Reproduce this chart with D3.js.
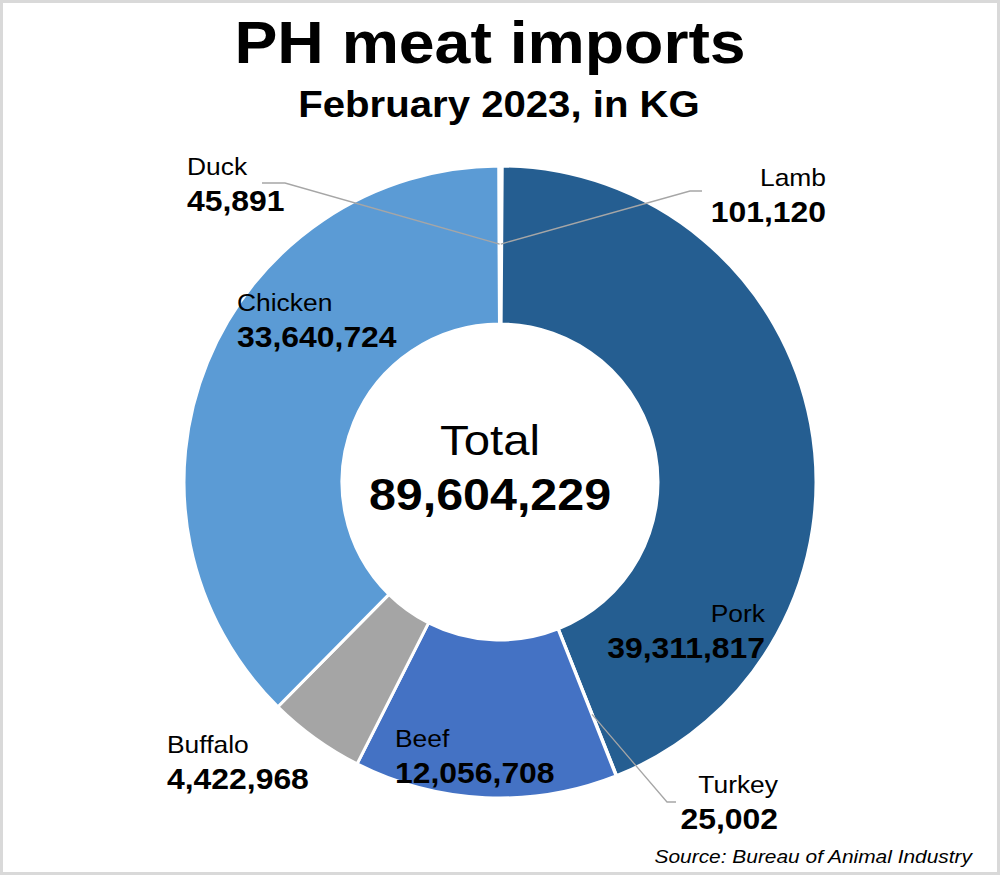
<!DOCTYPE html>
<html>
<head>
<meta charset="utf-8">
<script src="https://cdn.jsdelivr.net/npm/d3@7"></script>
<style>
  html, body { margin: 0; padding: 0; background: #fff; }
  svg { display: block; }
  text { font-family: "Liberation Sans", Arial, sans-serif; fill: #000; }
</style>
</head>
<body>
<svg id="chart" width="1000" height="875"></svg>
<script>
// ---- data ----
const categories = ["Lamb", "Pork", "Turkey", "Beef", "Buffalo", "Chicken", "Duck"];
const values = [101120, 39311817, 25002, 12056708, 4422968, 33640724, 45891];
const colors = ["#1f3864", "#255e91", "#7f6000", "#4472c4", "#a5a5a5", "#5b9bd5", "#264478"];
const totalValue = 89604229;
const titleText = "PH meat imports";
const subtitleText = "February 2023, in KG";
const sourceText = "Source: Bureau of Animal Industry";

// label layout (position of each category label block, anchor)
const labelPos = {
  Lamb:    {x: 826, y: 186, anchor: "end"},
  Pork:    {x: 765, y: 622, anchor: "end"},
  Turkey:  {x: 778, y: 793, anchor: "end"},
  Beef:    {x: 395, y: 747, anchor: "start"},
  Buffalo: {x: 167, y: 753, anchor: "start"},
  Chicken: {x: 237, y: 311, anchor: "start"},
  Duck:    {x: 187, y: 175, anchor: "start"}
};
// leader lines: label end points (label side), then to slice at given radius
const leaders = {
  Lamb:   {pts: [[702, 191], [690, 191]], radius: 238},
  Turkey: {pts: [[676, 802], [667, 802]], radius: 250},
  Duck:   {pts: [[262, 183], [285, 183]], radius: 238}
};

const W = 1000, H = 875;
const cx = 500, cy = 482, R = 316, r = 158;
const SX = 1.1;
const fmt = d3.format(",");

const svg = d3.select("#chart");

// frame
svg.append("rect").attr("x", 1.5).attr("y", 1.5).attr("width", W - 3).attr("height", H - 3)
  .attr("fill", "#fff").attr("stroke", "#d9d9d9").attr("stroke-width", 3);

function txt(x, y, s, size, weight, anchor, style) {
  return svg.append("text")
    .attr("transform", `translate(${x},${y}) scale(${SX},1)`)
    .attr("text-anchor", anchor || "middle")
    .attr("font-size", size)
    .attr("font-weight", weight || "normal")
    .attr("font-style", style || "normal")
    .text(s);
}

// title
txt(490, 63, titleText, 58.5, "bold");
txt(499, 117, subtitleText, 36.5, "bold");

// donut
const data = categories.map((c, i) => ({cat: c, value: values[i], color: colors[i]}));
const pie = d3.pie().sort(null).value(d => d.value).startAngle(0).endAngle(2 * Math.PI);
const arcs = pie(data);
const arc = d3.arc().innerRadius(r).outerRadius(R);
const g = svg.append("g").attr("transform", `translate(${cx},${cy})`);
g.selectAll("path").data(arcs).join("path")
  .attr("d", arc)
  .attr("fill", d => d.data.color)
  .attr("stroke", "#fff")
  .attr("stroke-width", 3)
  .attr("stroke-linejoin", "round");

// leader lines for tiny slices
arcs.forEach(a => {
  const L = leaders[a.data.cat];
  if (!L) return;
  const p = d3.arc().innerRadius(L.radius).outerRadius(L.radius).centroid(a);
  const pts = L.pts.concat([[cx + p[0], cy + p[1]]]);
  svg.append("polyline")
    .attr("points", pts.map(q => q.join(",")).join(" "))
    .attr("fill", "none")
    .attr("stroke", "#a6a6a6").attr("stroke-width", 1.3);
});

// labels
arcs.forEach(a => {
  const c = a.data.cat, lp = labelPos[c];
  txt(lp.x, lp.y, c, 24, "normal", lp.anchor);
  txt(lp.x, lp.y + 36, fmt(a.data.value), 29, "bold", lp.anchor);
});

// center
txt(490, 455, "Total", 43, "normal");
txt(490, 510, fmt(totalValue), 44, "bold");

// source
txt(972, 863, sourceText, 19, "normal", "end", "italic");
</script>
</body>
</html>
